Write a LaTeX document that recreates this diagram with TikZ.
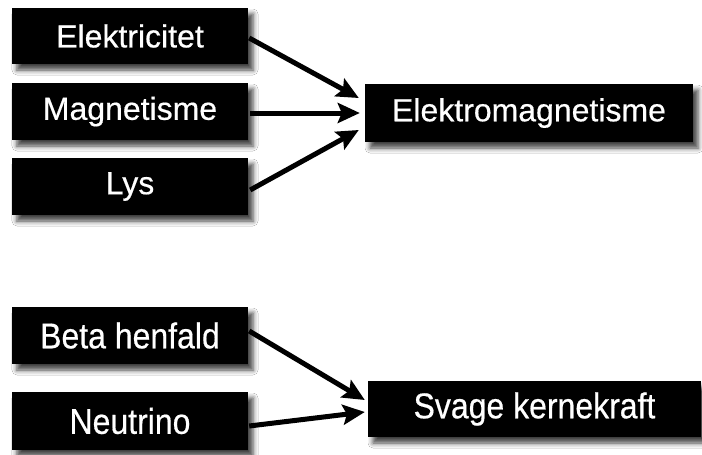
\documentclass[tikz,border=0pt]{standalone}
\usepackage{fontspec}
\setmainfont{Liberation Sans}[FakeBold=0.5]
\usetikzlibrary{shadows.blur,arrows.meta,calc}
\newcommand{\tallbox}[1]{\scalebox{1}[1.12]{#1}}
\tikzset{
  blackbox/.style={fill=black, text=white, inner sep=0pt,
    font=\fontsize{32}{36}\selectfont,
    blur shadow={shadow xshift=5pt, shadow yshift=-6pt, shadow blur radius=5pt, shadow opacity=75}},
  conn/.style={line width=5pt, -{Stealth[length=22pt,width=20pt,inset=4pt]}}
}
\begin{document}
\begin{tikzpicture}[x=1pt,y=-1pt]
\useasboundingbox[fill=white] (0,0) rectangle (702,455);
\node[blackbox, minimum width=236pt, minimum height=56pt] (elek) at (130,36) {Elektricitet};
\node[blackbox, minimum width=236pt, minimum height=57pt] (mag) at (130,111.5) {Magnetisme};
\node[blackbox, minimum width=236pt, minimum height=57pt] (lys) at (130,186.5) {Lys};
\node[blackbox, minimum width=328pt, minimum height=58pt] (em) at (529,113) {Elektromagnetisme};
\node[blackbox, minimum width=236pt, minimum height=57pt] (beta) at (130,335.5) {\tallbox{Beta henfald}};
\node[blackbox, minimum width=236pt, minimum height=58pt] (neu) at (130,421) {\tallbox{Neutrino}};
\node[blackbox, minimum width=333pt, minimum height=56pt] (svage) at (534.5,409) {\tallbox{Svage kernekraft}};
\draw[conn] ($(elek.east)+(1,2)$) -- ($(em.west)+(-6,-15)$);
\draw[conn] ($(mag.east)+(2,1.5)$) -- ($(em.west)+(-5,0)$);
\draw[conn] ($(lys.east)+(2,3.5)$) -- ($(em.west)+(-6,17)$);
\draw[conn] ($(beta.east)+(1,-4.5)$) -- ($(svage.west)+(-3,-9)$);
\draw[conn] ($(neu.east)+(1,5)$) -- ($(svage.west)+(-3,3)$);
\end{tikzpicture}
\end{document}
